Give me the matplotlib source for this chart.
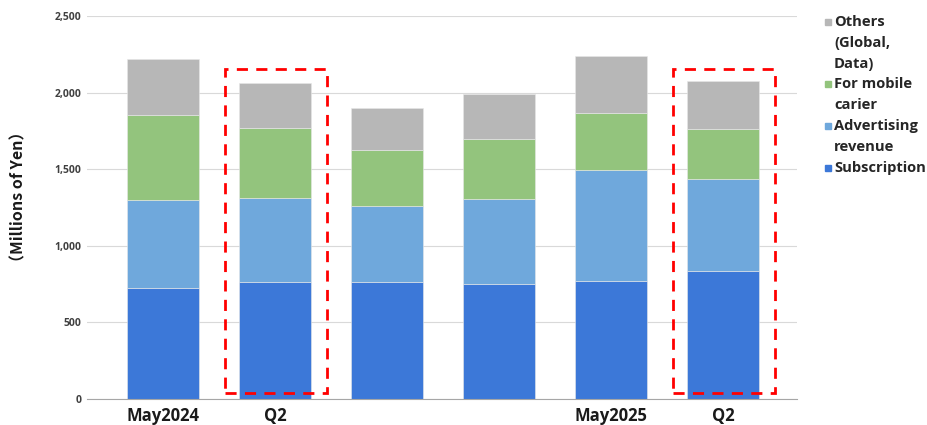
import matplotlib.pyplot as plt
import numpy as np
from matplotlib.patches import Rectangle

# quarterly sales by segment (millions of yen)
periods = ["May2024", "Q2", "", "", "May2025", "Q2"]
subscription = [726, 766, 764, 751, 772, 835]
advertising = [575, 548, 496, 556, 725, 603]
mobile = [555, 453, 363, 388, 372, 324]
others = [363, 296, 276, 294, 374, 314]

seg_names = ["Subscription", "Advertising\nrevenue", "For mobile\ncarier", "Others\n(Global,\nData)"]
seg_colors = ["#3C78D8", "#6FA8DC", "#93C47D", "#B7B7B7"]
highlight = [1, 5]

plt.rcParams['font.family'] = ['Open Sans', 'DejaVu Sans']
plt.rcParams['font.weight'] = 'bold'

fig = plt.figure(figsize=(9.27, 4.25), dpi=100)
ax = fig.add_axes([0.094, 0.061, 0.766, 0.901])

x = np.arange(len(periods))
bottom = np.zeros(len(periods))
for vals, name, col in zip([subscription, advertising, mobile, others], seg_names, seg_colors):
    ax.bar(x, vals, 0.64, bottom=bottom, color=col, label=name, zorder=2,
           edgecolor='#e8e8e8', linewidth=0.4)
    bottom += np.array(vals)

# dashed boxes around the Q2 bars
for i in highlight:
    ax.add_patch(Rectangle((i - 0.45, 40), 0.91, 2115, fill=False, edgecolor='red',
                           linestyle=(0, (4, 3)), linewidth=2, zorder=3, clip_on=False))

ax.set_xlim(-0.68, 5.66)
ax.set_ylim(0, 2500)
ax.set_yticks(np.arange(0, 2501, 500))
ax.set_yticklabels([f"{v:,}" for v in range(0, 2501, 500)], fontsize=7.5, color='#404040')
ax.set_xticks(x)
ax.set_xticklabels(periods, fontsize=12, color='#1a1a1a')
ax.tick_params(length=0)
ax.tick_params(axis='x', pad=6)
ax.tick_params(axis='y', pad=4)
ax.grid(axis='y', color='#d9d9d9', linewidth=0.8, zorder=0)
for s in ['top', 'right', 'left']:
    ax.spines[s].set_visible(False)
ax.spines['bottom'].set_color('#a6a6a6')

fig.text(0.020, 0.536, "（Millions of Yen）", fontsize=11.5, color='#1a1a1a', rotation=90,
         family=['Noto Sans CJK JP', 'DejaVu Sans'], fontweight='bold', ha='center', va='center')

# legend drawn by hand so the marker sits on the first line of each label
row_h = 20.8 / 425
y = 1 - 22 / 425
for name, col in zip(seg_names[::-1], seg_colors[::-1]):
    fig.patches.append(Rectangle((825 / 927, y - 3 / 425), 6 / 927, 6 / 425,
                                 transform=fig.transFigure, color=col, figure=fig))
    for line in name.split("\n"):
        fig.text(834 / 927, y, line, fontsize=10.6, color='#262626', va='center', ha='left')
        y -= row_h

fig.savefig("out.png", dpi=100)
